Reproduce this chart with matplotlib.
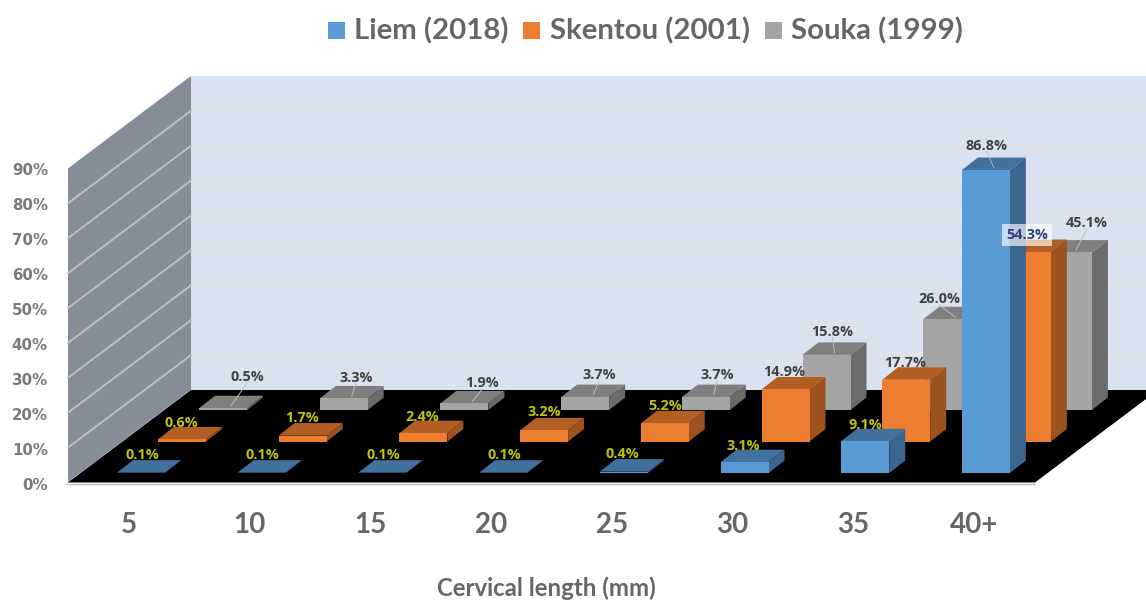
import matplotlib
matplotlib.use("Agg")
import matplotlib.pyplot as plt
from matplotlib.patches import Polygon, Rectangle

categories = ["5", "10", "15", "20", "25", "30", "35", "40+"]
series_names = ["Liem (2018)", "Skentou (2001)", "Souka (1999)"]
liem = [0.1, 0.1, 0.1, 0.1, 0.4, 3.1, 9.1, 86.8]
skentou = [0.6, 1.7, 2.4, 3.2, 5.2, 14.9, 17.7, 54.3]
souka = [0.5, 3.3, 1.9, 3.7, 3.7, 15.8, 26.0, 45.1]
y_ticks = [0, 10, 20, 30, 40, 50, 60, 70, 80, 90]
x_title = "Cervical length (mm)"

front_colors = ["#5B9BD5", "#ED7D31", "#A5A5A5"]
side_colors = ["#3A668F", "#9C531F", "#6B6B6B"]
top_colors = ["#41719C", "#B35E22", "#7F7F7F"]

# pseudo-3D projection (pixel space)
X0, Y0 = 68.0, 482.5        # front-left floor corner
FLOOR_W = 967.0
WALL_DX, WALL_DY = 123.0, 92.5
PX_PER_PCT = 3.49
CAT_STEP, BAR_W = 120.7, 48.0
BAR_X0, BAR_Y0 = 117.0, 473.0
SER_DX, SER_DY = 41.0, 31.5
DEP_DX, DEP_DY = 16.0, 12.5

# label offsets from the centre of each bar's top face (pixels)
label_dx = [[-7, -7, -7, -7, -9, -9, -8, -7],
            [-9, -9, -9, -8, -8, -9, -9, -8],
            [16, 4, 10, 6, 3, -2, -16, 11]]
label_dy = [[-12, -12, -12, -12, -12, -11, -11, -19],
            [-11, -12, -11, -13, -12, -12, -11, -12],
            [-26, -15, -15, -17, -17, -18, -15, -24]]


def bar_box(i, j, v):
    x = BAR_X0 + CAT_STEP * i + SER_DX * j
    y = BAR_Y0 - SER_DY * j
    return x, y, y - v * PX_PER_PCT


fig = plt.figure(figsize=(11.46, 6.01), dpi=100, facecolor="white")
ax = fig.add_axes([0, 0, 1, 1])
ax.set_xlim(0, 1146)
ax.set_ylim(601, 0)
ax.axis("off")

H = max(y_ticks) * PX_PER_PCT
bx, by = X0 + WALL_DX, Y0 - WALL_DY
right = 1146

# walls and floor
ax.add_patch(Polygon([(bx, by), (right, by), (right, by - H), (bx, by - H)],
                     fc="#DAE1F0", ec="none", zorder=1))
ax.add_patch(Polygon([(X0, Y0), (bx, by), (bx, by - H), (X0, Y0 - H)],
                     fc="#868D99", ec="none", zorder=1))
for t in y_ticks[1:]:
    d = t * PX_PER_PCT
    if t < max(y_ticks):
        ax.plot([bx, right], [by - d, by - d], color="#E6E4E2", lw=1.4, zorder=2)
        ax.plot([X0, bx], [Y0 - d, by - d], color="#BEC1C7", lw=1.4, zorder=2)
ax.plot([X0, bx], [Y0, by], color="#BEC1C7", lw=1.0, zorder=2)
ax.add_patch(Polygon([(X0, Y0), (X0 + FLOOR_W, Y0), (right + 12, by), (bx, by)],
                     fc="black", ec="none", zorder=3))
ax.plot([X0 - 2, X0 + FLOOR_W], [Y0 + 1, Y0 + 1], color="#C0C0C0", lw=1.0, zorder=3)

# bars, back to front
all_vals = [liem, skentou, souka]
z = 4
for j in (2, 1, 0):
    for i, v in enumerate(all_vals[j]):
        x, yb, yt = bar_box(i, j, v)
        ax.add_patch(Polygon([(x + BAR_W, yb), (x + BAR_W + DEP_DX, yb - DEP_DY),
                              (x + BAR_W + DEP_DX, yt - DEP_DY), (x + BAR_W, yt)],
                             fc=side_colors[j], ec="none", zorder=z))
        ax.add_patch(Polygon([(x, yt), (x + BAR_W, yt),
                              (x + BAR_W + DEP_DX, yt - DEP_DY), (x + DEP_DX, yt - DEP_DY)],
                             fc=top_colors[j], ec="none", zorder=z))
        ax.add_patch(Rectangle((x, yt), BAR_W, yb - yt, fc=front_colors[j], ec="none", zorder=z))
        z += 0.01

# data labels
lab_font = {"family": "Open Sans", "weight": "bold", "fontsize": 10.4}
for j in range(3):
    for i, v in enumerate(all_vals[j]):
        x, yb, yt = bar_box(i, j, v)
        cx, cy = x + (BAR_W + DEP_DX) / 2, yt - DEP_DY / 2
        dx, dy = label_dx[j][i], label_dy[j][i]
        if j == 2 or v > 80:
            color = "#404040"
            ax.plot([cx, cx + dx], [cy + 4, cy + dy + 7], color="#BDBDBD", lw=0.7, zorder=20)
        elif v > 50:
            color = "#2F3F80"
        elif v > 10:
            color = "#404040"
        else:
            color = "#BFC500"
        box = dict(fc="white", ec="none", alpha=0.65, pad=3) if 50 < v < 80 and j == 1 else None
        ax.text(cx + dx, cy + dy + 1, f"{v:.1f}%", color=color, ha="center", va="center",
                zorder=21, bbox=box, **lab_font)

# y tick labels
for t in y_ticks:
    ax.text(48, Y0 - t * PX_PER_PCT + 2.5, f"{t}%", ha="right", va="center", color="#7A7A7A",
            family="DejaVu Sans", weight="bold", fontsize=10.8, zorder=22)

# category labels
for i, c in enumerate(categories):
    ax.text(BAR_X0 + 12 + CAT_STEP * i, 525, c, ha="center", va="center", color="#666666",
            family="Lato", weight="bold", fontsize=20, zorder=22)
ax.text(546, 588, x_title, ha="center", va="center", color="#666666",
        family="Lato", weight="bold", fontsize=17.3, zorder=22)

# legend
leg_sq_x = [328, 523, 765]
leg_tx_x = [354, 550, 791]
for name, col, sx, tx in zip(series_names, front_colors, leg_sq_x, leg_tx_x):
    ax.add_patch(Rectangle((sx, 22), 17, 17, fc=col, ec="none", zorder=22))
    ax.text(tx, 30.5, name, ha="left", va="center", color="#666666",
            family="Lato", weight="bold", fontsize=21.2, zorder=22)

fig.savefig("out.png", dpi=100, facecolor="white")
